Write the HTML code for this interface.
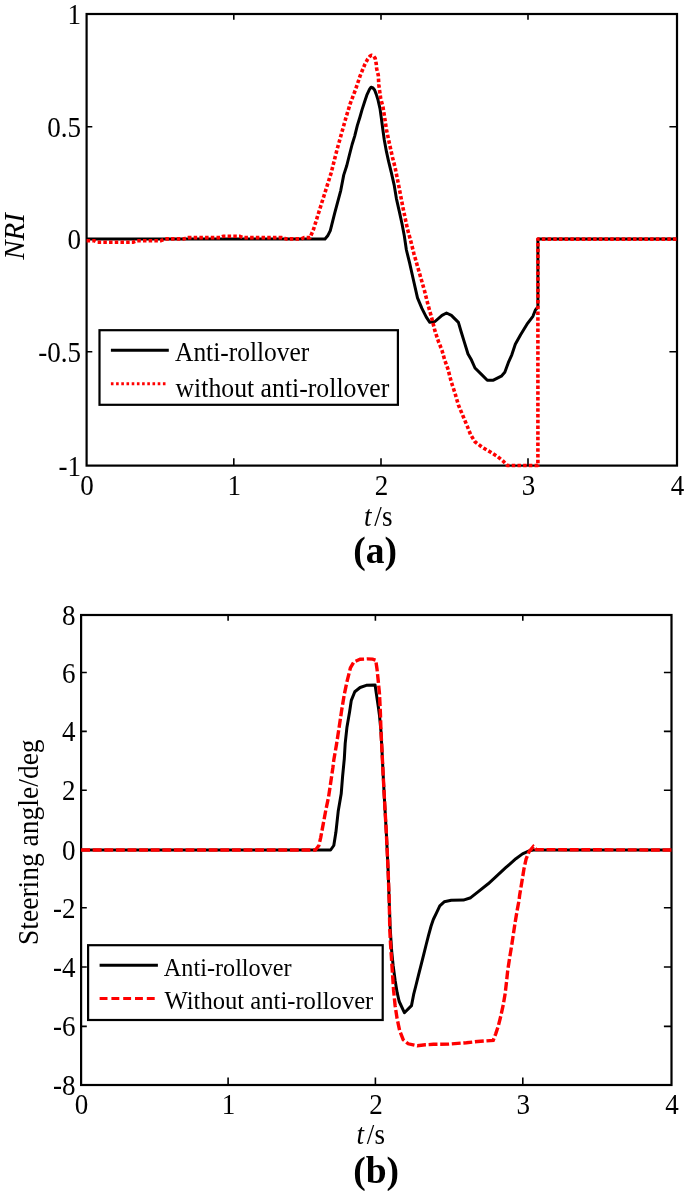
<!DOCTYPE html><html><head><meta charset="utf-8"><style>html,body{margin:0;padding:0;background:#fff;}svg{display:block;will-change:transform;}text{font-family:"Liberation Serif",serif;fill:#000;}</style></head><body>
<svg width="685" height="1191" viewBox="0 0 685 1191">
<rect width="685" height="1191" fill="#fff"/>
<path d="M233.80 465.60V458.20M233.80 14.00V19.70M381.00 465.60V458.20M381.00 14.00V19.70M528.00 465.60V458.20M528.00 14.00V19.70M86.60 126.70H92.30M677.00 126.70H669.40M86.60 239.20H92.30M677.00 239.20H669.40M86.60 351.80H92.30M677.00 351.80H669.40" stroke="#000" stroke-width="1.6" fill="none"/>
<rect x="86.6" y="14.0" width="590.40" height="451.60" stroke="#000" stroke-width="2.2" fill="none"/>
<text transform="translate(87.10,495) scale(0.95,1)" text-anchor="middle" font-size="28.5">0</text>
<text transform="translate(234.30,495) scale(0.95,1)" text-anchor="middle" font-size="28.5">1</text>
<text transform="translate(381.50,495) scale(0.95,1)" text-anchor="middle" font-size="28.5">2</text>
<text transform="translate(528.50,495) scale(0.95,1)" text-anchor="middle" font-size="28.5">3</text>
<text transform="translate(677.50,495) scale(0.95,1)" text-anchor="middle" font-size="28.5">4</text>
<text transform="translate(81,24.00) scale(0.95,1)" text-anchor="end" font-size="28.5">1</text>
<text transform="translate(81,136.70) scale(0.95,1)" text-anchor="end" font-size="28.5">0.5</text>
<text transform="translate(81,249.20) scale(0.95,1)" text-anchor="end" font-size="28.5">0</text>
<text transform="translate(81,361.80) scale(0.95,1)" text-anchor="end" font-size="28.5">-0.5</text>
<text transform="translate(81,475.60) scale(0.95,1)" text-anchor="end" font-size="28.5">-1</text>
<path d="M86.6 239.1 L325.0 239.0 L327.7 235.8 L330.3 230.6 L334.7 213.1 L340.8 190.3 L343.7 175.1 L346.8 165.5 L349.4 155.0 L352.1 144.5 L354.7 136.1 L357.3 125.6 L359.9 117.2 L362.0 109.9 L364.7 101.5 L366.8 95.2 L369.6 89.2 L371.1 87.2 L373.0 88.0 L374.6 90.0 L376.2 94.1 L377.9 99.5 L380.0 108.6 L381.4 118.6 L382.9 130.0 L384.3 140.0 L386.4 151.4 L388.6 161.4 L391.4 172.9 L394.3 185.7 L396.4 198.6 L399.3 211.4 L402.1 224.3 L404.3 235.7 L406.4 250.0 L409.6 262.8 L413.1 278.5 L417.5 297.8 L421.9 308.3 L426.3 317.1 L429.8 322.3 L435.0 321.5 L442.0 315.3 L446.5 313.0 L451.4 315.4 L458.4 322.4 L461.0 331.2 L464.5 342.6 L468.0 354.0 L471.5 360.1 L475.0 368.0 L481.2 374.1 L487.3 380.2 L493.4 380.2 L501.3 376.2 L504.8 372.3 L508.3 362.7 L511.8 354.8 L515.3 344.3 L520.6 334.7 L527.6 323.3 L532.9 316.3 L535.4 310.0 L537.9 307.0 L537.9 239.1 L677.0 239.1" stroke="#000" stroke-width="3" fill="none" stroke-linejoin="round"/>
<path d="M86.6 240.7 L94.0 240.7 L97.0 242.2 L133.0 242.2 L137.0 240.7 L161.0 240.7 L165.0 238.9 L184.0 238.9 L188.0 237.6 L220.0 237.6 L223.0 236.3 L240.0 236.3 L243.0 237.6 L282.0 237.6 L286.0 238.9 L301.0 238.9 L304.0 237.6 L310.1 237.6 L313.7 228.8 L318.0 214.8 L322.4 200.8 L326.8 186.8 L331.2 172.8 L334.7 158.8 L337.3 148.6 L341.7 132.9 L346.1 117.1 L350.4 103.1 L355.7 89.1 L360.1 75.9 L364.7 64.7 L367.8 58.9 L369.8 56.3 L371.5 55.3 L373.5 56.0 L375.2 58.4 L376.2 63.7 L376.7 68.9 L378.3 75.2 L378.8 84.7 L380.7 98.6 L382.9 106.6 L384.6 117.1 L386.4 129.3 L389.0 141.6 L392.5 157.4 L395.1 167.5 L398.6 185.0 L403.0 207.8 L407.4 228.8 L410.5 240.0 L414.0 254.0 L417.5 266.3 L421.0 278.5 L424.5 290.8 L428.0 304.8 L431.5 317.1 L435.0 331.1 L438.5 341.6 L442.0 350.4 L444.7 360.0 L447.9 368.8 L451.4 382.3 L454.9 392.8 L458.4 405.0 L462.8 415.5 L467.2 426.1 L470.7 434.8 L475.0 441.8 L482.0 447.1 L490.8 452.3 L497.8 456.7 L503.1 461.1 L507.4 465.5 L537.9 465.5 L537.9 239.1 L677.0 239.1" stroke="#f00" stroke-width="3.6" fill="none" stroke-dasharray="3.5 2.2" stroke-linejoin="round"/>
<rect x="99.5" y="330.2" width="298.4" height="74.6" fill="#fff" stroke="#000" stroke-width="2.2"/>
<path d="M110.9 350.2H168.8" stroke="#000" stroke-width="3"/>
<path d="M110.9 383.8H166" stroke="#f00" stroke-width="3" stroke-dasharray="2.6 2.6"/>
<text transform="translate(175,360.8) scale(0.91,1)" font-size="28">Anti-rollover</text>
<text transform="translate(175.5,396.6) scale(0.92,1)" font-size="28">without anti-rollover</text>
<text transform="translate(364,526) scale(0.95,1)" font-size="28.5"><tspan font-style="italic">t</tspan><tspan dx="3">/s</tspan></text>
<text transform="translate(375.2,562.6) scale(1.0,1)" text-anchor="middle" font-weight="bold" font-size="37.5">(a)</text>
<text transform="translate(23.5,236.5) rotate(-90)" text-anchor="middle" font-style="italic" font-size="29">NRI</text>
<path d="M228.10 1085.00V1077.60M228.10 615.00V620.70M375.40 1085.00V1077.60M375.40 615.00V620.70M522.80 1085.00V1077.60M522.80 615.00V620.70M81.10 672.50H86.80M671.50 672.50H663.90M81.10 731.40H86.80M671.50 731.40H663.90M81.10 790.30H86.80M671.50 790.30H663.90M81.10 850.00H86.80M671.50 850.00H663.90M81.10 907.70H86.80M671.50 907.70H663.90M81.10 967.00H86.80M671.50 967.00H663.90M81.10 1026.40H86.80M671.50 1026.40H663.90" stroke="#000" stroke-width="1.6" fill="none"/>
<rect x="81.1" y="615.0" width="590.40" height="470.00" stroke="#000" stroke-width="2.2" fill="none"/>
<text transform="translate(81.60,1114) scale(0.95,1)" text-anchor="middle" font-size="28.5">0</text>
<text transform="translate(228.60,1114) scale(0.95,1)" text-anchor="middle" font-size="28.5">1</text>
<text transform="translate(375.90,1114) scale(0.95,1)" text-anchor="middle" font-size="28.5">2</text>
<text transform="translate(523.30,1114) scale(0.95,1)" text-anchor="middle" font-size="28.5">3</text>
<text transform="translate(672.00,1114) scale(0.95,1)" text-anchor="middle" font-size="28.5">4</text>
<text transform="translate(75.5,625.00) scale(0.95,1)" text-anchor="end" font-size="28.5">8</text>
<text transform="translate(75.5,682.50) scale(0.95,1)" text-anchor="end" font-size="28.5">6</text>
<text transform="translate(75.5,741.40) scale(0.95,1)" text-anchor="end" font-size="28.5">4</text>
<text transform="translate(75.5,800.30) scale(0.95,1)" text-anchor="end" font-size="28.5">2</text>
<text transform="translate(75.5,860.00) scale(0.95,1)" text-anchor="end" font-size="28.5">0</text>
<text transform="translate(75.5,917.70) scale(0.95,1)" text-anchor="end" font-size="28.5">-2</text>
<text transform="translate(75.5,977.00) scale(0.95,1)" text-anchor="end" font-size="28.5">-4</text>
<text transform="translate(75.5,1036.40) scale(0.95,1)" text-anchor="end" font-size="28.5">-6</text>
<text transform="translate(75.5,1095.00) scale(0.95,1)" text-anchor="end" font-size="28.5">-8</text>
<path d="M81.1 850.0 L330.6 850.0 L333.8 845.5 L335.9 832.3 L338.2 811.3 L341.2 793.8 L342.6 776.3 L344.3 758.8 L345.2 743.4 L346.9 727.6 L349.6 711.8 L351.3 700.4 L354.8 691.7 L360.1 687.5 L366.3 685.3 L375.1 685.0 L376.4 694.1 L378.3 706.7 L379.5 715.5 L381.0 731.9 L382.0 750.8 L382.9 769.6 L384.2 794.8 L386.4 834.1 L388.1 870.0 L389.3 903.8 L390.1 926.6 L391.6 950.1 L393.1 965.2 L395.1 980.3 L397.1 992.4 L399.2 1001.5 L404.4 1012.7 L411.5 1005.6 L413.6 994.7 L415.8 986.0 L418.5 975.1 L421.3 964.2 L424.0 953.3 L426.2 944.5 L428.4 935.8 L431.1 926.0 L433.3 919.5 L436.5 912.9 L439.8 905.8 L444.2 901.8 L451.3 900.3 L463.4 900.1 L470.7 897.7 L478.0 891.8 L488.2 883.8 L495.5 877.2 L505.7 867.7 L515.9 858.7 L522.5 853.9 L529.1 850.9 L533.4 850.0 L671.5 850.0" stroke="#000" stroke-width="3" fill="none" stroke-linejoin="round"/>
<path d="M81.1 850.0 L315.4 850.0 L318.9 845.5 L320.7 837.6 L323.3 823.6 L325.9 809.6 L328.5 797.3 L330.6 783.3 L332.9 767.5 L333.8 760.0 L336.4 745.1 L339.1 727.6 L341.7 710.1 L344.3 694.3 L346.9 682.0 L350.4 668.0 L353.9 661.9 L360.1 659.3 L367.1 658.9 L372.6 659.1 L375.7 660.1 L377.0 668.9 L378.3 681.5 L379.5 694.1 L380.4 713.0 L381.0 731.9 L382.0 750.8 L382.9 769.6 L384.2 794.8 L386.4 834.1 L388.1 870.0 L389.3 903.8 L389.8 930.0 L390.6 945.1 L391.6 960.2 L392.6 975.3 L393.6 990.4 L395.1 1005.5 L397.1 1018.6 L399.7 1030.7 L403.2 1039.7 L408.2 1043.8 L417.3 1045.8 L425.3 1044.8 L433.4 1044.3 L448.8 1044.1 L466.4 1042.7 L477.5 1041.5 L493.2 1040.4 L495.8 1033.6 L498.3 1026.0 L500.8 1016.0 L503.3 1004.6 L505.2 993.3 L506.5 981.9 L507.7 970.6 L509.6 958.0 L511.5 946.6 L513.4 934.0 L515.3 921.4 L517.2 910.1 L519.1 900.0 L519.6 895.5 L521.8 882.3 L523.9 869.2 L526.1 859.0 L529.1 851.7 L533.4 846.6 L536.4 849.6 L671.5 850.0" stroke="#f00" stroke-width="3.4" fill="none" stroke-dasharray="8.9 2.7"/>
<rect x="88.1" y="945.2" width="294.6" height="74.8" fill="#fff" stroke="#000" stroke-width="2.2"/>
<path d="M99.6 965.2H157.9" stroke="#000" stroke-width="3"/>
<path d="M99.6 998.4H154.7" stroke="#f00" stroke-width="3" stroke-dasharray="7.9 3.9"/>
<text transform="translate(163.8,975.8) scale(0.97,1)" font-size="25">Anti-rollover</text>
<text transform="translate(164.5,1008.6) scale(0.985,1)" font-size="25">Without anti-rollover</text>
<text transform="translate(356.5,1144.2) scale(0.95,1)" font-size="28.5"><tspan font-style="italic">t</tspan><tspan dx="3">/s</tspan></text>
<text transform="translate(376.2,1182.8) scale(1.0,1)" text-anchor="middle" font-weight="bold" font-size="37.5">(b)</text>
<text transform="translate(38.4,842.2) rotate(-90) scale(0.95,1)" text-anchor="middle" font-size="29">Steering angle/deg</text>
</svg></body></html>
